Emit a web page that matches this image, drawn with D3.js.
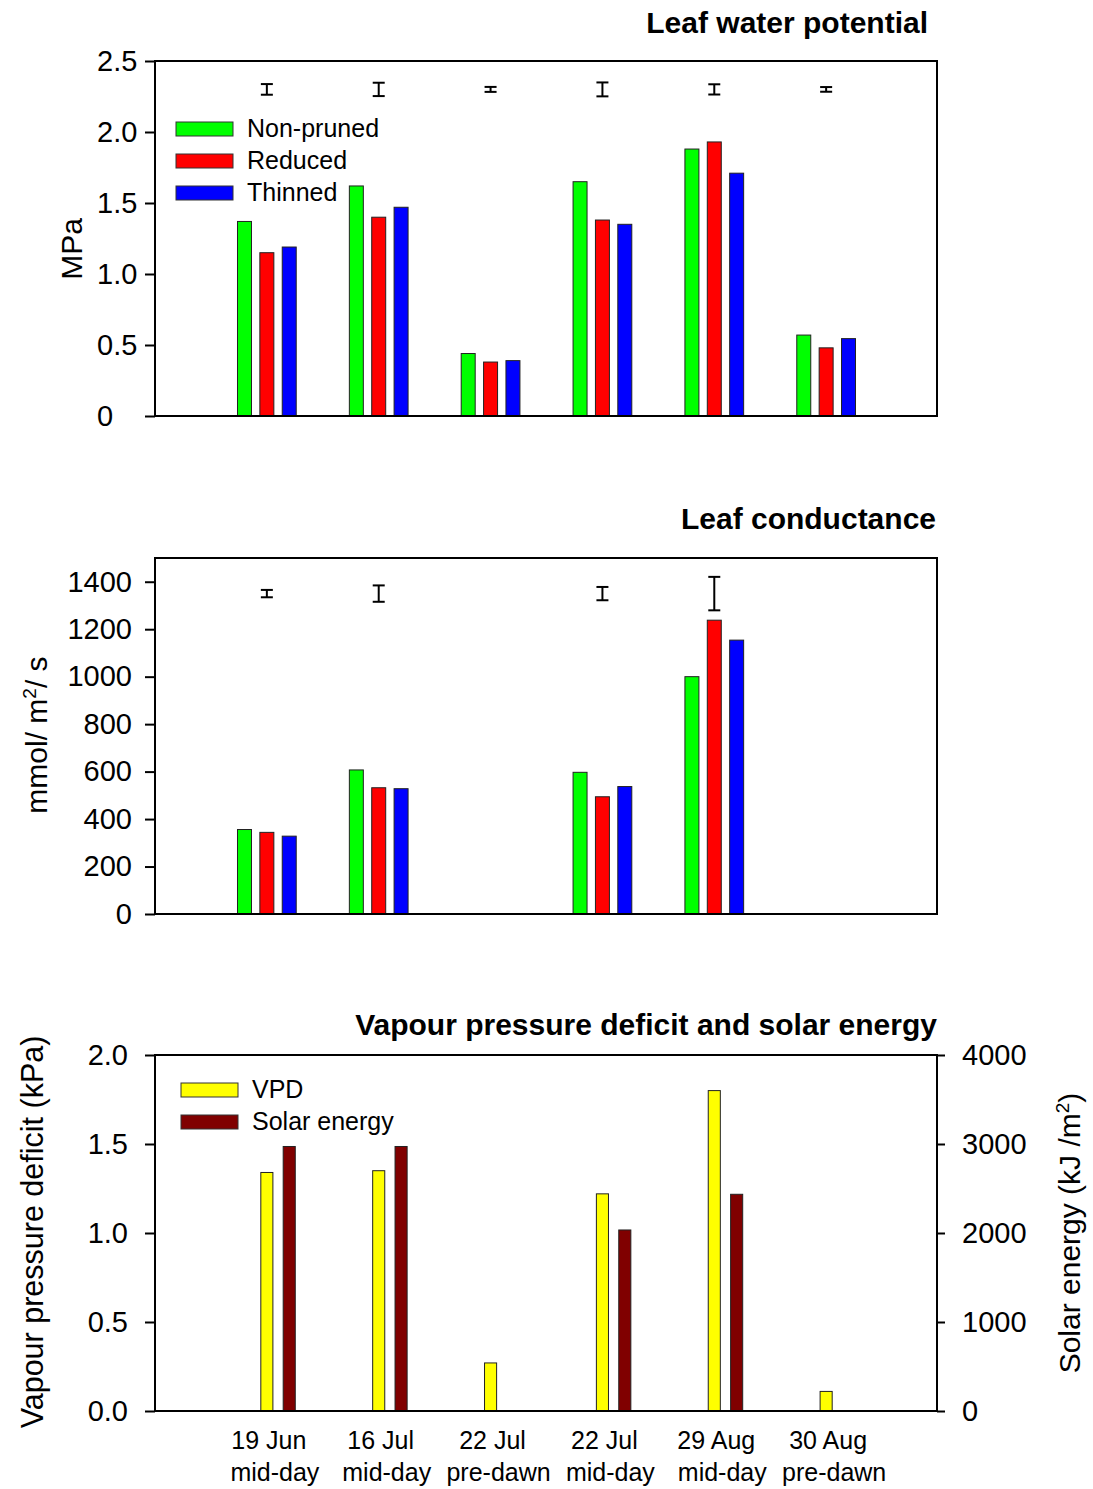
<!DOCTYPE html>
<html>
<head>
<meta charset="utf-8">
<script src="https://cdn.jsdelivr.net/npm/d3@7"></script>
<style>
  body { margin: 0; background: #fff; }
  svg { display: block; font-family: "Liberation Sans", Arial, sans-serif; }
</style>
</head>
<body>
<svg id="chart" width="1093" height="1489"></svg>
<script>
// sampling dates (two-line tick labels)
const dates = ["19 Jun", "16 Jul", "22 Jul", "22 Jul", "29 Aug", "30 Aug"];
const times = ["mid-day", "mid-day", "pre-dawn", "mid-day", "mid-day", "pre-dawn"];

// leaf water potential (MPa)
const lwpNonPruned = [1.37, 1.62, 0.44, 1.65, 1.88, 0.57];
const lwpReduced   = [1.15, 1.40, 0.38, 1.38, 1.93, 0.48];
const lwpThinned   = [1.19, 1.47, 0.39, 1.35, 1.71, 0.545];
const lwpLsd       = [0.075, 0.094, 0.035, 0.098, 0.072, 0.033];
const lwpLsdLevel  = 2.30;

// leaf conductance (mmol/m2/s)
const gsNonPruned = [356, 607, null, 597, 1000, null];
const gsReduced   = [344, 532, null, 494, 1238, null];
const gsThinned   = [328, 528, null, 537, 1154, null];
const gsLsd       = [31, 69, null, 56, 141, null];
const gsLsdLevel  = 1350;

// weather
const vpd   = [1.34, 1.35, 0.27, 1.22, 1.80, 0.11];
const solar = [2972, 2972, null, 2034, 2435, null];

const treatments = ["Non-pruned", "Reduced", "Thinned"];
const treatColors = ["#00ff00", "#ff0000", "#0000ff"];

const svg = d3.select("#chart");
const left = 155, right = 937;
const x = d3.scaleLinear().domain([0, 7]).range([left, right + 1]);
const step = x(1) - x(0);

function frame(top, bottom) {
  svg.append("rect")
    .attr("x", left).attr("y", top)
    .attr("width", right - left).attr("height", bottom - top)
    .attr("fill", "none").attr("stroke", "#000").attr("stroke-width", 2);
}

function styleAxis(g) {
  g.select(".domain").remove();
  g.selectAll(".tick line").attr("stroke", "#000").attr("stroke-width", 2);
  g.selectAll(".tick text").attr("fill", "#000").attr("font-size", 29)
    .attr("font-family", "Liberation Sans, Arial, sans-serif");
}

function title(txt, xEnd, yBase) {
  svg.append("text").attr("x", xEnd).attr("y", yBase)
    .attr("text-anchor", "end").attr("font-size", 30).attr("font-weight", "bold")
    .text(txt);
}

function groupBars(y, series, colors, offs, w) {
  series.forEach((vals, s) => {
    svg.append("g").selectAll("rect")
      .data(vals.map((v, i) => ({ v, i })).filter(d => d.v != null))
      .join("rect")
      .attr("x", d => x(d.i + 1 + offs[s]) - w / 2)
      .attr("width", w)
      .attr("y", d => y(d.v))
      .attr("height", d => y(0) - y(d.v))
      .attr("fill", colors[s])
      .attr("stroke", "#222").attr("stroke-width", 1);
  });
}

function lsdBars(y, level, lsd) {
  const g = svg.append("g").attr("stroke", "#000").attr("stroke-width", 2);
  lsd.forEach((e, i) => {
    if (e == null) return;
    const cx = x(i + 1), y0 = y(level - e / 2), y1 = y(level + e / 2);
    g.append("line").attr("x1", cx).attr("x2", cx).attr("y1", y0).attr("y2", y1);
    g.append("line").attr("x1", cx - 6).attr("x2", cx + 6).attr("y1", y0).attr("y2", y0);
    g.append("line").attr("x1", cx - 6).attr("x2", cx + 6).attr("y1", y1).attr("y2", y1);
  });
}

function legend(x0, y0, names, colors, tx) {
  const g = svg.append("g");
  names.forEach((n, i) => {
    g.append("rect").attr("x", x0).attr("y", y0 + i * 32).attr("width", 57).attr("height", 14)
      .attr("fill", colors[i]).attr("stroke", "#333").attr("stroke-width", 1);
    g.append("text").attr("x", x0 + tx).attr("y", y0 + i * 32 + 15)
      .attr("font-size", 25).text(n);
  });
}

const offs3 = [-0.2, 0, 0.2];
const barW = step * 0.125;

// ---- panel 1: leaf water potential
{
  const top = 61, bottom = 416;
  const y = d3.scaleLinear().domain([0, 2.5]).range([bottom, top]);
  title("Leaf water potential", 928, 33);
  groupBars(y, [lwpNonPruned, lwpReduced, lwpThinned], treatColors, offs3, barW);
  lsdBars(y, lwpLsdLevel, lwpLsd);
  frame(top, bottom);
  const ax = svg.append("g").attr("transform", `translate(${left},0)`)
    .call(d3.axisLeft(y).tickValues([0, 0.5, 1, 1.5, 2, 2.5]).tickSize(10)
      .tickFormat(d => d === 0 ? "0" : d.toFixed(1)));
  styleAxis(ax);
  ax.selectAll(".tick text").attr("text-anchor", "start").attr("x", -58);
  svg.append("text").attr("transform", `translate(82,249) rotate(-90)`)
    .attr("text-anchor", "middle").attr("font-size", 30).text("MPa");
  legend(176, 122, treatments, treatColors, 71);
}

// ---- panel 2: leaf conductance
{
  const top = 558, bottom = 914;
  const y = d3.scaleLinear().domain([0, 1500]).range([bottom, top]);
  title("Leaf conductance", 936, 529);
  groupBars(y, [gsNonPruned, gsReduced, gsThinned], treatColors, offs3, barW);
  lsdBars(y, gsLsdLevel, gsLsd);
  frame(top, bottom);
  const ax = svg.append("g").attr("transform", `translate(${left},0)`)
    .call(d3.axisLeft(y).tickValues(d3.range(0, 1401, 200)).tickSize(10).tickPadding(13)
      .tickFormat(d3.format("d")));
  styleAxis(ax);
  const lab = svg.append("text").attr("transform", `translate(47,735) rotate(-90)`)
    .attr("text-anchor", "middle").attr("font-size", 30);
  lab.append("tspan").text("mmol/ m");
  lab.append("tspan").attr("font-size", 19).attr("dy", -11).text("2");
  lab.append("tspan").attr("dy", 11).text("/ s");
}

// ---- panel 3: VPD and solar energy
{
  const top = 1055, bottom = 1411;
  const y = d3.scaleLinear().domain([0, 2]).range([bottom, top]);
  const y2 = d3.scaleLinear().domain([0, 4000]).range([bottom, top]);
  title("Vapour pressure deficit and solar energy", 937, 1035);
  const w = step * 0.108;
  svg.append("g").selectAll("rect")
    .data(vpd.map((v, i) => ({ v, i })))
    .join("rect")
    .attr("x", d => x(d.i + 1) - w / 2).attr("width", w)
    .attr("y", d => y(d.v)).attr("height", d => y(0) - y(d.v))
    .attr("fill", "#ffff00").attr("stroke", "#222").attr("stroke-width", 1);
  svg.append("g").selectAll("rect")
    .data(solar.map((v, i) => ({ v, i })).filter(d => d.v != null))
    .join("rect")
    .attr("x", d => x(d.i + 1.2) - w / 2).attr("width", w)
    .attr("y", d => y2(d.v)).attr("height", d => y2(0) - y2(d.v))
    .attr("fill", "#800000").attr("stroke", "#222").attr("stroke-width", 1);
  frame(top, bottom);
  const ax = svg.append("g").attr("transform", `translate(${left},0)`)
    .call(d3.axisLeft(y).tickValues([0, 0.5, 1, 1.5, 2]).tickSize(10).tickPadding(17)
      .tickFormat(d3.format(".1f")));
  styleAxis(ax);
  const ax2 = svg.append("g").attr("transform", `translate(${right},0)`)
    .call(d3.axisRight(y2).tickValues([0, 1000, 2000, 3000, 4000]).tickSize(8).tickPadding(17)
      .tickFormat(d3.format("d")));
  styleAxis(ax2);
  svg.append("text").attr("transform", `translate(43,1232) rotate(-90)`)
    .attr("text-anchor", "middle").attr("font-size", 30.5).text("Vapour pressure deficit (kPa)");
  const lab = svg.append("text").attr("transform", `translate(1080,1233) rotate(-90)`)
    .attr("text-anchor", "middle").attr("font-size", 30);
  lab.append("tspan").text("Solar energy (kJ /m");
  lab.append("tspan").attr("font-size", 19).attr("dy", -11).text("2");
  lab.append("tspan").attr("dy", 11).text(")");
  legend(181, 1083, ["VPD", "Solar energy"], ["#ffff00", "#800000"], 71);

  // two-line category labels
  const xl = svg.append("g").attr("text-anchor", "middle").attr("font-size", 25);
  xl.selectAll("text.d").data(dates).join("text").attr("class", "d")
    .attr("x", (d, i) => x(i + 1) + 2).attr("y", 1449).text(d => d);
  xl.selectAll("text.t").data(times).join("text").attr("class", "t")
    .attr("x", (d, i) => x(i + 1) + 8).attr("y", 1481).text(d => d);
}
</script>
</body>
</html>
